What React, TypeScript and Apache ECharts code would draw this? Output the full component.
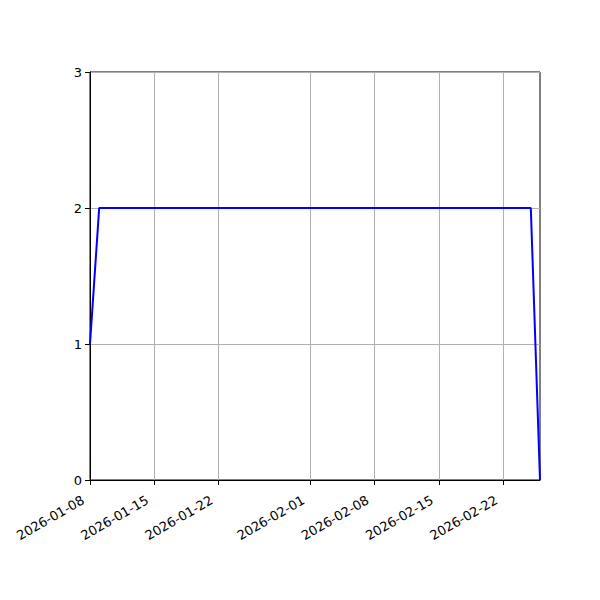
import React, { useEffect, useRef } from "react";
import * as echarts from "echarts";

const dates = ["2026-01-08", "2026-01-09", "2026-02-25", "2026-02-26"];
const counts = [1, 2, 2, 0];
const tickDates = ["2026-01-08", "2026-01-15", "2026-01-22", "2026-02-01", "2026-02-08", "2026-02-15", "2026-02-22"];
const yTicks = [0, 1, 2, 3];

const toTs = (s: string) => {
    const [y, m, d] = s.split("-").map(Number);
    return Date.UTC(y, m - 1, d);
};

const fmt = (v: number) => {
    const d = new Date(v);
    const p = (n: number) => String(n).padStart(2, "0");
    return `${d.getUTCFullYear()}-${p(d.getUTCMonth() + 1)}-${p(d.getUTCDate())}`;
};

const App = () => {
    const chartRef = useRef<HTMLDivElement>(null);

    useEffect(() => {
        if (!chartRef.current) return;
        const chart = echarts.init(chartRef.current, null, { renderer: "svg" });
        const font = "DejaVu Sans";
        const tickTs = tickDates.map(toTs);

        chart.setOption({
            animation: false,
            backgroundColor: "#ffffff",
            grid: {
                left: 90, right: 60, top: 72, bottom: 120,
                show: true, borderColor: "#000000", borderWidth: 1, backgroundColor: "transparent"
            },
            xAxis: {
                type: "value",
                min: toTs(dates[0]),
                max: toTs(dates[dates.length - 1]),
                axisLine: { show: true, lineStyle: { color: "#000000", width: 1 } },
                axisTick: { show: true, inside: false, length: 5, customValues: tickTs, lineStyle: { color: "#000000" } },
                axisLabel: {
                    customValues: tickTs,
                    formatter: (v: number) => fmt(v),
                    rotate: 30,
                    color: "#000000",
                    fontFamily: font,
                    fontSize: 13,
                    margin: 15,
                    padding: [0, 8, 0, 0]
                },
                splitLine: { show: true, lineStyle: { color: "#b0b0b0", width: 1 } }
            },
            yAxis: {
                type: "value",
                min: yTicks[0],
                max: yTicks[yTicks.length - 1],
                interval: 1,
                axisLine: { show: true, lineStyle: { color: "#000000", width: 1 } },
                axisTick: { show: true, inside: false, length: 5, lineStyle: { color: "#000000" } },
                axisLabel: { color: "#000000", fontFamily: font, fontSize: 13, margin: 8 },
                splitLine: { show: true, lineStyle: { color: "#b0b0b0", width: 1 } }
            },
            series: [
                {
                    type: "line",
                    data: dates.map((d, i) => [toTs(d), counts[i]]),
                    showSymbol: false,
                    lineStyle: { color: "#0000ff", width: 2 },
                    itemStyle: { color: "#0000ff" }
                }
            ]
        });

        return () => chart.dispose();
    }, []);

    return (
        <div
            ref={chartRef}
            style={{ position: "fixed", top: 0, left: 0, width: "600px", height: "600px" }}
        />
    );
};

export default App;
